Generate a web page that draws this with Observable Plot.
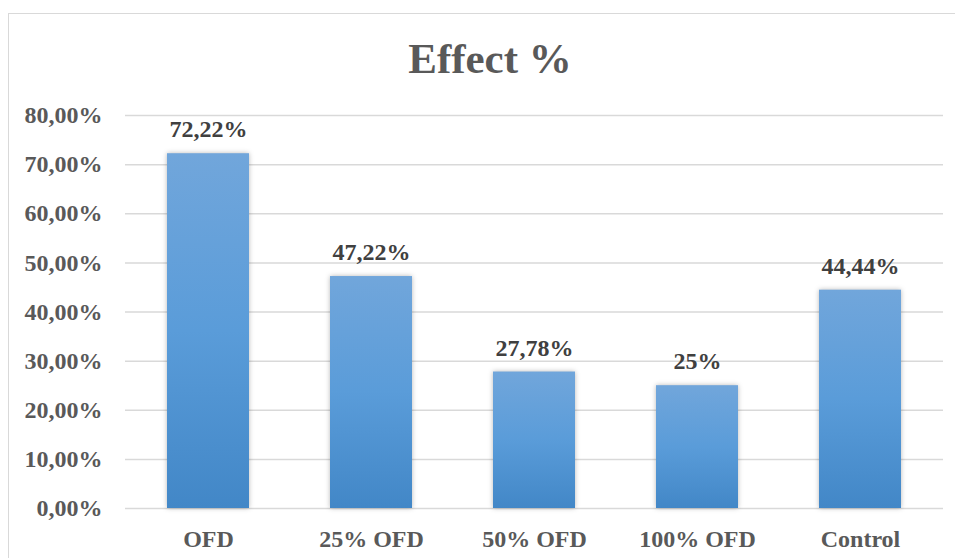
<!DOCTYPE html>
<html>
<head>
<meta charset="utf-8">
<script src="https://cdn.jsdelivr.net/npm/d3@7"></script>
<script src="https://cdn.jsdelivr.net/npm/@observablehq/plot@0.6"></script>
<style>
  html, body { margin: 0; padding: 0; background: #fff; }
  #wrap { position: relative; width: 955px; height: 558px; overflow: hidden; }
  #frame { position: absolute; left: 8px; top: 13px; width: 970px; height: 560px; border: 1.5px solid #d9d9d9; box-sizing: border-box; }
  #title { position: absolute; left: 8px; width: 964px; top: 33px; text-align: center;
    font-family: "Liberation Serif", "Times New Roman", serif; font-weight: bold; font-size: 43px; color: #595959; line-height: 52px; }
  #chart { position: absolute; left: 0; top: 0; }
  g[aria-label="bar"] rect { filter: drop-shadow(0px 0px 2.5px rgba(0,0,0,0.28)); }
</style>
</head>
<body>
<div id="wrap">
  <div id="frame"></div>
  <div id="chart"></div>
  <div id="title">Effect %</div>
</div>
<script>
const categories = ["OFD", "25% OFD", "50% OFD", "100% OFD", "Control"];
const values = [72.22, 47.22, 27.78, 25, 44.44];
const yTicks = [0, 10, 20, 30, 40, 50, 60, 70, 80];

const data = categories.map((c, i) => ({category: c, value: values[i]}));
const fmtTick = d => d.toFixed(2).replace(".", ",") + "%";
const fmtLabel = v => (Number.isInteger(v) ? String(v) : v.toFixed(2).replace(".", ",")) + "%";

const chart = Plot.plot({
  width: 955,
  height: 558,
  marginLeft: 125,
  marginRight: 12,
  marginTop: 115,
  marginBottom: 50,
  style: {fontFamily: "'Liberation Serif', 'Times New Roman', serif", fontSize: "24px", fontWeight: "bold", color: "#595959", background: "transparent"},
  x: {domain: categories, paddingInner: 0.5, paddingOuter: 0.25, label: null},
  y: {domain: [0, 80], label: null},
  marks: [
    Plot.ruleY(yTicks, {stroke: "#d9d9d9", strokeWidth: 1.5}),
    Plot.barY(data, {x: "category", y: "value", fill: "url(#barGrad)"}),
    Plot.text(data, {x: "category", y: "value", text: d => fmtLabel(d.value), dy: -24, fill: "#404040", fontSize: 24, fontWeight: "bold"}),
    Plot.axisY({ticks: yTicks, tickFormat: fmtTick, tickSize: 0, tickPadding: 23, fill: "#595959", fontSize: 24, label: null}),
    Plot.axisX({tickSize: 0, tickPadding: 21, fill: "#595959", fontSize: 24, label: null})
  ]
});

const svg = d3.select(chart);
const defs = svg.insert("defs", ":first-child");
const grad = defs.append("linearGradient").attr("id", "barGrad")
  .attr("x1", 0).attr("y1", 0).attr("x2", 0).attr("y2", 1);
grad.append("stop").attr("offset", "0%").attr("stop-color", "#71a6db");
grad.append("stop").attr("offset", "50%").attr("stop-color", "#5a9cd9");
grad.append("stop").attr("offset", "100%").attr("stop-color", "#4287c7");

document.getElementById("chart").appendChild(chart);
</script>
</body>
</html>
